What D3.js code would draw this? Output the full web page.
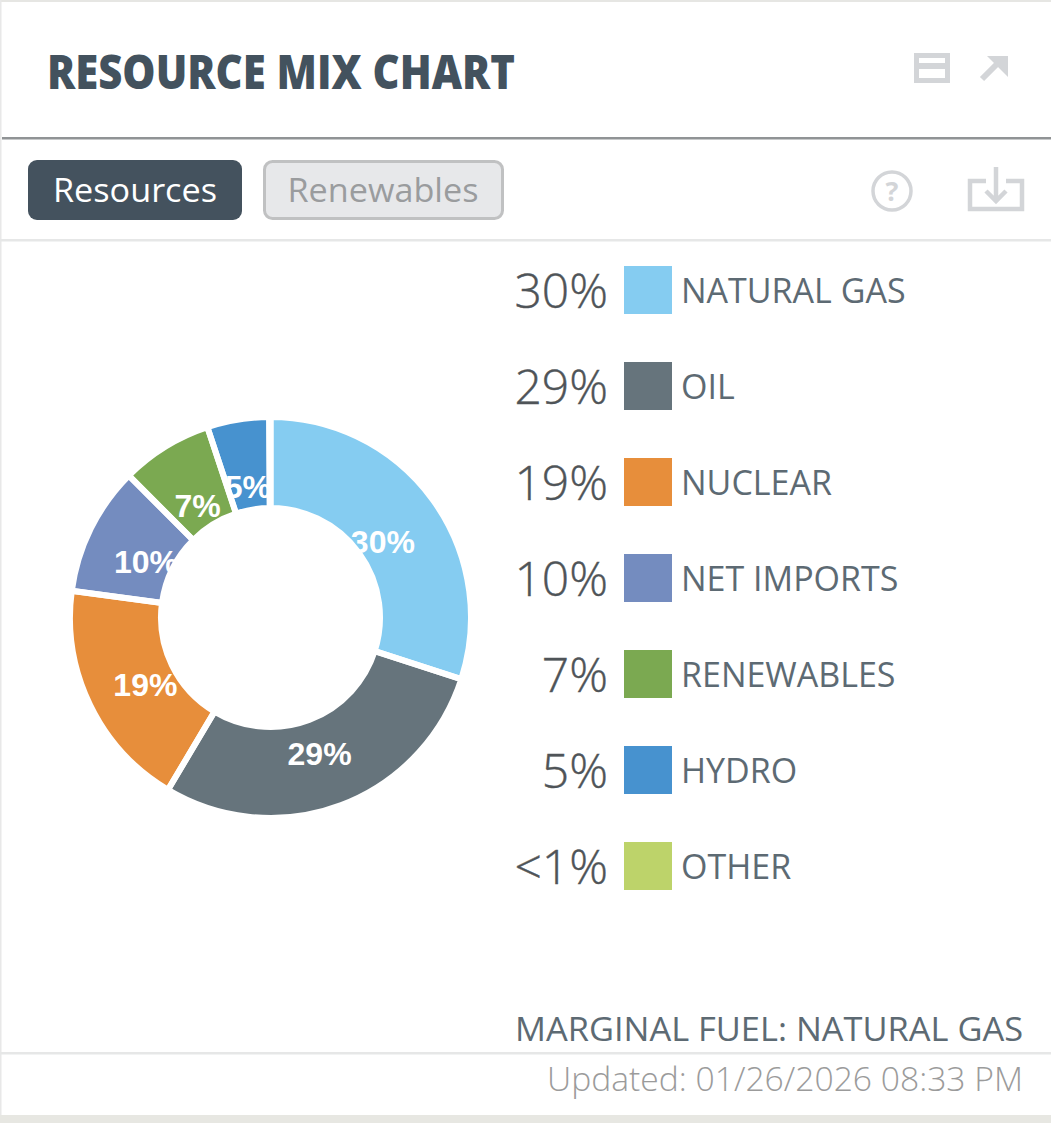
<!DOCTYPE html>
<html><head><meta charset="utf-8">
<script src="https://cdn.jsdelivr.net/npm/d3@7/dist/d3.min.js"></script>
<style>html,body{margin:0;padding:0;background:#fff}svg{display:block}text{font-family:"Open Sans",sans-serif}</style>
</head><body><div id="chart"></div>
<script>
const categories=["NATURAL GAS","OIL","NUCLEAR","NET IMPORTS","RENEWABLES","HYDRO","OTHER"];
const shares=[30,28.6,18.6,10.4,7.4,5,0.1];
const shareLabels=["30%","29%","19%","10%","7%","5%","<1%"];
const colors=["#85ccf1","#66747c","#e78e3b","#748cbf","#7ba951","#4792cf","#bdd36a"];
const title="RESOURCE MIX CHART";
const W=1051,H=1123;
const svg=d3.select("#chart").append("svg").attr("width",W).attr("height",H).attr("viewBox",[0,0,W,H]);
svg.append("rect").attr("width",W).attr("height",H).attr("fill","#fff");
const rule=(x,y,w,h,c)=>svg.append("rect").attr("x",x).attr("y",y).attr("width",w).attr("height",h).attr("fill",c);
rule(0,0,W,2,"#e6e6e3");rule(0,0,1.5,H,"#e8e8e8");rule(2,137,W-2,2.5,"#909395");rule(0,239,W,2.5,"#e6e7e7");rule(0,1052,W,2.5,"#e6e7e7");rule(0,1115,W,8,"#e7e7e2");

const txt=(s,x,y,size,fill,weight,anchor,len)=>{const t=svg.append("text").attr("x",x).attr("y",y).attr("font-size",size).attr("fill",fill).attr("font-weight",weight||400).attr("text-anchor",anchor||"start").text(s);if(len)t.attr("textLength",len).attr("lengthAdjust","spacingAndGlyphs");return t;};
txt(title,47,88.5,47,"#43525e",800,"start",468);

svg.append("rect").attr("x",28).attr("y",160).attr("width",214).attr("height",60).attr("rx",9).attr("fill","#44525e");
txt("Resources",135,202,32.5,"#fff",400,"middle",164);
svg.append("rect").attr("x",264.5).attr("y",161.5).attr("width",238).attr("height",57).attr("rx",8).attr("fill","#e7e8ea").attr("stroke","#c0c1c2").attr("stroke-width",3);
txt("Renewables",383,202,32.5,"#9a9c9e",400,"middle",191);

// header icons
const ic="#d3d5d8";
svg.append("path").attr("fill",ic).attr("fill-rule","evenodd").attr("d","M914 53h36v30h-36zM919 63h26v-5h-26zM919 78h26v-9h-26z");
svg.append("path").attr("fill","none").attr("stroke",ic).attr("stroke-width",6).attr("d","M982 79L1003 58");
svg.append("path").attr("fill",ic).attr("d","M987 56h21v21z");
svg.append("circle").attr("cx",892).attr("cy",191).attr("r",19).attr("fill","none").attr("stroke",ic).attr("stroke-width",3.5);
txt("?",892,201,27,ic,700,"middle");
svg.append("path").attr("fill","none").attr("stroke",ic).attr("stroke-width",4.5).attr("d","M986 181H970V209H1022V181H1006");
svg.append("path").attr("fill","none").attr("stroke",ic).attr("stroke-width",4.5).attr("d","M996 167V200M986 191L996 201L1006 191");

// donut: slices, then clipped labels, then white separators on top
const cx=270.5,cy=617.5,R=200.5,r0=109.5,labelR=139;
const rows=categories.map((c,i)=>({category:c,share:shares[i],label:shareLabels[i],color:colors[i],i}));
const pie=d3.pie().value(d=>d.share).sort(null);
const arc=d3.arc().innerRadius(r0).outerRadius(R);
const labelArc=d3.arc().innerRadius(labelR).outerRadius(labelR);
const g=svg.append("g").attr("transform",`translate(${cx},${cy})`);
const arcs=pie(rows);
svg.append("defs").selectAll("clipPath").data(arcs).join("clipPath").attr("id",d=>"c"+d.data.i).append("path").attr("d",arc);
g.selectAll("path.s").data(arcs).join("path").attr("class","s").attr("d",arc).attr("fill",d=>d.data.color);
const lab=g.selectAll("g.l").data(arcs.filter(d=>d.data.share>=1)).join("g").attr("class","l").attr("clip-path",d=>`url(#c${d.data.i})`);
lab.append("text").attr("transform",d=>{const p=labelArc.centroid(d);return `translate(${p[0]},${p[1]+17.5})`;})
 .attr("text-anchor","middle").attr("font-size",32).attr("font-weight",700).attr("fill","#fff")
 .style("font-family","'Liberation Sans',Arial,sans-serif").text(d=>d.data.label);
g.selectAll("path.e").data(arcs).join("path").attr("class","e").attr("d",arc).attr("fill","none").attr("stroke","#fff").attr("stroke-width",6);

// legend
const y=d3.scalePoint().domain(categories).range([266,842]);
const leg=svg.append("g").selectAll("g").data(rows).join("g").attr("transform",d=>`translate(0,${y(d.category)})`);
leg.append("rect").attr("x",624).attr("width",48).attr("height",48).attr("fill",d=>d.color);
leg.append("text").attr("x",608).attr("y",42).attr("text-anchor","end").attr("font-size",48).attr("font-weight",300).attr("fill","#4f5458").style("stroke","#4f5458").style("stroke-width",0.4).text(d=>d.label);
leg.append("text").attr("x",681).attr("y",36.5).attr("font-size",34).attr("fill","#5d6a73").text(d=>d.category);

txt("MARGINAL FUEL: NATURAL GAS",1023,1040.5,32.5,"#5d6a73",400,"end",508);
txt("Updated: 01/26/2026 08:33 PM",1023,1091,33,"#9b9b9b",300,"end",476);
</script></body></html>
